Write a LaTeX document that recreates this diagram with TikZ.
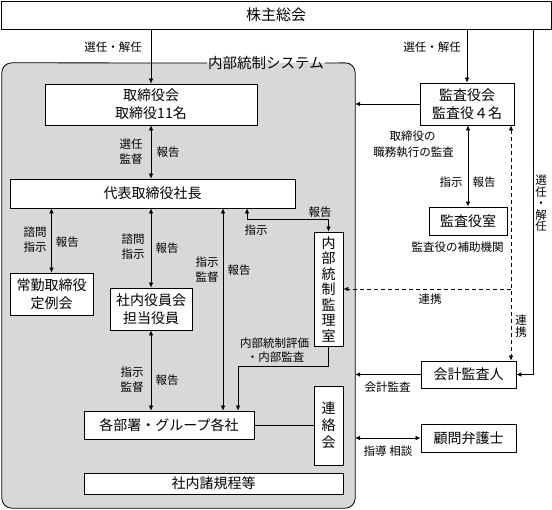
\documentclass[tikz,border=0pt]{standalone}
\usepackage{fontspec}
\setmainfont{Noto Sans CJK JP}
\usetikzlibrary{arrows.meta}
\definecolor{sysgray}{RGB}{216,216,216}
\begin{document}
\begin{tikzpicture}[x=1pt,y=-1pt,
  >={Latex[length=5pt,width=4.5pt]},
  bx/.style={draw, fill=white, line width=0.8pt, inner sep=0pt, align=center, font=\fontsize{14}{18}\selectfont},
  vbx/.style={bx, font=\fontsize{14}{15.5}\selectfont},
  lbl/.style={inner sep=0pt, align=center, font=\fontsize{11.5}{15}\selectfont},
  vlbl/.style={lbl, font=\fontsize{11.5}{11.5}\selectfont},
  conn/.style={line width=0.7pt},
  arr/.style={conn, ->},
  darr/.style={conn, <->},
  dsh/.style={conn, dash pattern=on 4pt off 3pt}
]
\useasboundingbox (0,0) rectangle (552,510);

% internal control system area
\node[fill=sysgray, rounded corners=10pt, minimum width=353pt, minimum height=445pt, inner sep=0pt] (sys) at (178.5,285.5) {};
\node[inner sep=1pt, font=\fontsize{14.5}{15}\selectfont] (title) at (266,63) {内部統制システム};
\draw[line width=0.8pt, rounded corners=10pt] (title.east) -- (sys.north east) -- (sys.south east) -- (sys.south west) -- (sys.north west) -- (title.west);

% boxes
\node[bx, minimum width=550pt, minimum height=28pt, font=\fontsize{15}{18}\selectfont] (kabu) at (276,15) {株主総会};
\node[bx, minimum width=212pt, minimum height=41pt] (tori) at (151,104.5) {取締役会\\取締役11名};
\node[bx, minimum width=94pt, minimum height=42pt] (kansa) at (467,104) {監査役会\\監査役４名};
\node[bx, minimum width=285pt, minimum height=29pt] (daihyo) at (152.5,193.5) {代表取締役社長};
\node[bx, minimum width=83pt, minimum height=42pt] (joukin) at (51.5,294) {常勤取締役\\定例会};
\node[bx, minimum width=82pt, minimum height=42pt] (shanai) at (151,309) {社内役員会\\担当役員};
\node[vbx, minimum width=29pt, minimum height=114pt] (naibu) at (328.5,289) {内\\部\\統\\制\\監\\理\\室};
\node[bx, minimum width=170pt, minimum height=28pt] (kaku) at (169,425) {各部署・グループ各社};
\node[vbx, minimum width=29pt, minimum height=79pt, font=\fontsize{14}{17}\selectfont] (renraku) at (328.5,425.5) {連\\絡\\会};
\node[bx, minimum width=259pt, minimum height=21pt] (kitei) at (213.5,483.5) {社内諸規程等};
\node[bx, minimum width=78pt, minimum height=28pt] (shitsu) at (468,221) {監査役室};
\node[bx, minimum width=95pt, minimum height=27pt] (kaikei) at (468.5,374.5) {会計監査人};
\node[bx, minimum width=95pt, minimum height=28pt] (komon) at (468.5,438) {顧問弁護士};

% helper coordinates
\coordinate (r1) at (533,0);
\coordinate (c1) at (247,219);
\coordinate (c2) at (238,366);
\coordinate (d1) at (511,0);
\coordinate (x3) at (223,0);

% connectors
\draw[arr] (kabu.south -| tori.north) -- (tori.north);
\draw[arr] (kabu.south -| kansa.north) -- (kansa.north);
\draw[arr] (kabu.south -| r1) -- (r1 |- kaikei.east) -- (kaikei.east);
\draw[arr] (kansa.west) -- (sys.east |- kansa.west);
\draw[darr] (tori.south) -- (tori.south |- daihyo.north);
\draw[darr] (daihyo.south -| joukin.north) -- (joukin.north);
\draw[darr] (daihyo.south -| shanai.north) -- (shanai.north);
\draw[darr] (daihyo.south -| x3) -- (kaku.north -| x3);
\draw[darr] (c1 |- daihyo.south) -- (c1) -- (c1 -| naibu.north) -- (naibu.north);
\draw[darr] (shanai.south) -- (shanai.south |- kaku.north);
\draw[arr] (naibu.south) -- (naibu.south |- c2) -- (c2) -- (c2 |- kaku.north);
\draw[conn] (kaku.east) -- (renraku.west |- kaku.east);
\draw[darr] (shitsu.north |- kansa.south) -- (shitsu.north);
\draw[dsh, <->] (kansa.south -| d1) -- (kaikei.north -| d1);
\draw[dsh, ->] (d1 |- naibu.east) -- (naibu.east);
\draw[arr] (kaikei.west) -- (sys.east |- kaikei.west);
\draw[darr] (sys.east |- komon.west) -- (komon.west);

% labels
\node[lbl] (l1) at (113,47) {選任・解任};
\node[lbl] (l2) at (432,47) {選任・解任};
\node[vlbl] (l3) at (541,203.5) {選\\任\\・\\解\\任};
\node[lbl] (l4) at (131,152) {選任\\監督};
\node[lbl] (l5) at (168,152) {報告};
\node[lbl] (l6) at (35,240) {諮問\\指示};
\node[lbl] (l7) at (67.5,242) {報告};
\node[lbl] (l8) at (133,246.5) {諮問\\指示};
\node[lbl] (l9) at (167,248) {報告};
\node[lbl] (l10) at (207,270) {指示\\監督};
\node[lbl] (l11) at (239,270) {報告};
\node[lbl] (l12) at (320,212) {報告};
\node[lbl] (l13) at (256,230) {指示};
\node[lbl] (l14) at (132,379.5) {指示\\監督};
\node[lbl] (l15) at (167,380) {報告};
\node[lbl] (l16) at (274.5,343) {内部統制評価};
\node[lbl] (l17) at (275.5,357) {・内部監査};
\node[lbl] (l18) at (412.5,136) {取締役の};
\node[lbl] (l19) at (413.5,152) {職務執行の監査};
\node[lbl] (l20) at (451,182) {指示};
\node[lbl] (l21) at (484,182) {報告};
\node[lbl] (l22) at (457.5,247) {監査役の補助機関};
\node[lbl] (l23) at (430,299) {連携};
\node[vlbl] (l24) at (521,326) {連\\携};
\node[lbl] (l25) at (387.5,387) {会計監査};
\node[lbl] (l26) at (388,451) {指導\ 相談};
\end{tikzpicture}
\end{document}
